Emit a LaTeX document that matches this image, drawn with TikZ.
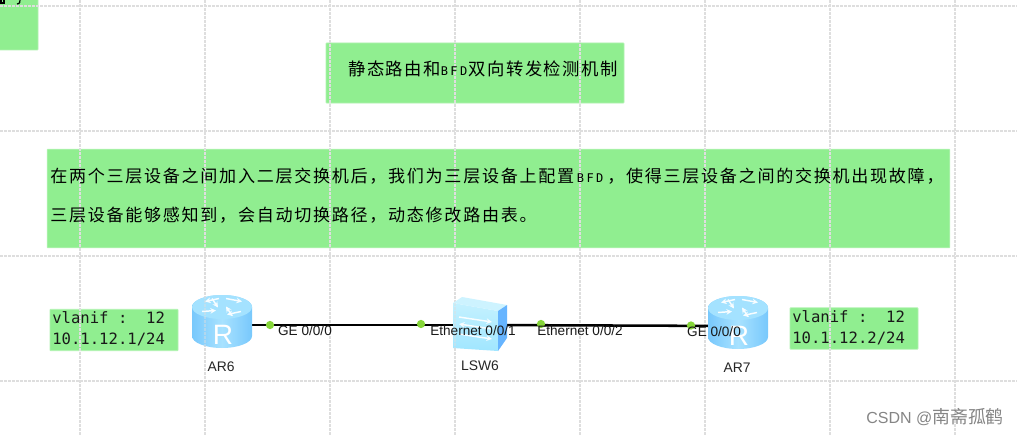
\documentclass[tikz,border=0pt]{standalone}
\usepackage{fontspec}
\usetikzlibrary{arrows.meta}
\newfontfamily\cjkp[LetterSpace=10]{Noto Sans CJK SC}
\newfontfamily\cjkt[LetterSpace=8.5]{Noto Sans CJK SC}
\newfontfamily\cjkw{Noto Sans CJK SC}
\newfontfamily\arial{Liberation Sans}
\newfontfamily\dmono{DejaVu Sans Mono}
\newfontfamily\dmonosp[LetterSpace=20]{DejaVu Sans Mono}
\newcommand{\bfdtxt}{{\dmonosp\fontsize{9}{10}\selectfont BFD}}
\definecolor{boxg}{HTML}{90EE90}
\definecolor{gridc}{HTML}{DEDEDE}
\definecolor{routerside}{HTML}{78C8FC}
\definecolor{routerlight}{HTML}{A8E2FF}
\definecolor{routertop}{HTML}{A4E2FF}
\definecolor{swfront}{HTML}{C4F1FF}
\definecolor{swfrontb}{HTML}{A0E6FF}
\definecolor{swside}{HTML}{66B4FF}
\definecolor{dotg}{HTML}{86D639}
\tikzset{
  gridline/.style={gridc,dash pattern=on 2.25pt off 0.75pt,line width=1pt},
  greenbox/.style={draw=boxg!70!white,line width=0.6pt,fill=boxg,rounded corners=0.5pt},
  cjkline/.style={inner sep=0pt,anchor=west,text=black},
  vlanbox/.style={greenbox,minimum width=96pt,minimum height=31pt,inner sep=0pt},
  vlantext/.style={inner sep=0pt,anchor=west,font=\dmono\fontsize{11.7}{15}\selectfont,text=black!90},
  portlabel/.style={inner sep=0pt,font=\arial\fontsize{10.2}{12}\selectfont,text=black!90},
  devlabel/.style={inner sep=0pt,font=\arial\fontsize{10.4}{12}\selectfont,text=black!85},
  device/.style={inner sep=0pt,minimum width=1pt,minimum height=1pt},
  link/.style={black,line width=1.9pt},
  portdot/.style={circle,fill=dotg,inner sep=0pt,minimum size=6.2pt},
  rarrow/.style={white!92!routerlight,line width=1.1pt,-{Stealth[length=4.2pt,width=4.2pt]}},
  routericon/.pic={
    \shade[left color=routerside,right color=routerside,middle color=routerlight]
      (-30,-14.5) -- (-30,14.5) arc[start angle=180,end angle=360,x radius=22.5pt,y radius=9pt] -- (30,-14.5) arc[start angle=0,end angle=180,x radius=22.5pt,y radius=9pt] -- cycle;
    \fill[routertop] (0,-14.5) ellipse[x radius=22.5pt,y radius=9pt];
    \draw[rarrow] (-20,-10) -- (-6,-11);
    \draw[rarrow] (-3,-23) -- (-17,-20);
    \draw[rarrow] (4,-23) -- (20,-20);
    \draw[rarrow] (19,-10) -- (5,-7);
    \draw[rarrow] (-10,-23) -- (-4,-14);
    \draw[rarrow] (10,-6) -- (4,-15);
    \node[inner sep=0pt,text=white,font=\arial\fontsize{21}{21}\selectfont] at (1,13) {R};
  }
}
\begin{document}
\begin{tikzpicture}[x=0.75pt,y=-0.75pt]
\useasboundingbox (0,0) rectangle (1017,435);
\fill[white] (0,0) rectangle (1017,435);
% boxes first, the grid shows over them
\draw[greenbox] (-2,-2) rectangle (38,50);
\node[greenbox,minimum width=223.5pt,minimum height=45pt,inner sep=0pt] (titlebox) at (475,73) {};
\node[greenbox,minimum width=677pt,minimum height=74pt,inner sep=0pt] (parabox) at (498.5,198.5) {};
\node[vlanbox] (v6) at (114,330) {};
\node[vlanbox] (v7) at (854,328.5) {};
% grid
\foreach \gx in {80,205,330,455,580,705,830,955} \draw[gridline] (\gx,0) -- (\gx,435);
\foreach \gy in {6,131,256,381} \draw[gridline] (0,\gy) -- (1017,\gy);
% top-left fragments
\draw[black,line width=0.9pt] (1,0) -- (1,3) -- (4,3) -- (4,0);
\draw[black,line width=0.9pt] (20,0) .. controls (20,4) and (18,4) .. (17,4);
% title
\node[cjkline] (titletext) at (348,69) {\cjkt\fontsize{13}{16}\selectfont 静态路由和\bfdtxt\hspace{1pt}双向转发检测机制};
% paragraph
\node[cjkline] (line1) at (50,176) {\cjkp\fontsize{12.8}{16}\selectfont 在两个三层设备之间加入二层交换机后，我们为三层设备上配置\hspace{2pt}\bfdtxt\hspace{3pt}，使得三层设备之间的交换机出现故障，};
\node[cjkline] (line2) at (50,215) {\cjkp\fontsize{12.8}{16}\selectfont 三层设备能够感知到，会自动切换路径，动态修改路由表。};
% vlan text
\node[vlantext] (v6a) at (52,318) {vlanif :\ \ 12};
\node[vlantext] (v6b) at (52,339) {10.1.12.1/24};
\node[vlantext] (v7a) at (792,317) {vlanif :\ \ 12};
\node[vlantext] (v7b) at (792,338) {10.1.12.2/24};
% devices (anchor nodes)
\node[device] (ar6) at (222,325) {};
\node[device] (lsw6) at (480,325) {};
\node[device] (ar7) at (738,326) {};
\draw[link] (ar6) -- (lsw6);
\draw[link] (lsw6) -- (ar7);
% router icons
\pic at (222,321.5) {routericon};
\pic at (738,322.5) {routericon};
% switch icon
\shade[top color=swfront,bottom color=swfrontb] (453,303) -- (498,311) -- (498,351) -- (453,348) -- cycle;
\fill[swfront!85!white] (453,303) -- (462,297) -- (507,305) -- (498,311) -- cycle;
\fill[swside] (498,311) -- (507,305) -- (507,338) -- (498,351) -- cycle;
\draw[rarrow] (459,317) -- (492,322);
\draw[rarrow] (492,329) -- (459,324);
\draw[rarrow] (459,334) -- (492,339);
% faint grid across the icons
\draw[gridline,opacity=.45] (205,296) -- (205,346);
\draw[gridline,opacity=.45] (455,303) -- (455,348);
% port dots
\node[portdot] (d1) at (270,325) {};
\node[portdot] (d2) at (421,324) {};
\node[portdot] (d3) at (541,324) {};
\node[portdot] (d4) at (691,325.5) {};
% labels
\node[portlabel] (l1) at (305,331) {GE 0/0/0};
\node[portlabel] (l2) at (473,331) {Ethernet 0/0/1};
\node[portlabel] (l3) at (580,331) {Ethernet 0/0/2};
\node[portlabel] (l4) at (714,332) {GE 0/0/0};
\node[devlabel] (n6) at (221,367) {AR6};
\node[devlabel] (nl) at (480,366) {LSW6};
\node[devlabel] (n7) at (737,368) {AR7};
% watermark
\node[inner sep=0pt,anchor=west,text=black!48] (wm) at (866,417) {\arial\fontsize{12}{14}\selectfont CSDN @\cjkw\fontsize{13.4}{14}\selectfont 南斋孤鹤};
\end{tikzpicture}
\end{document}
